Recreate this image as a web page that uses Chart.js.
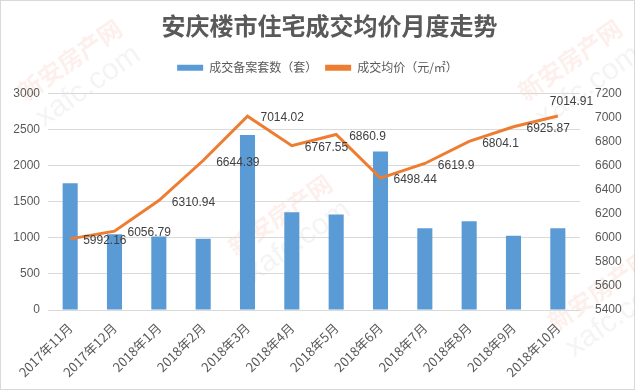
<!DOCTYPE html>
<html>
<head>
<meta charset="utf-8">
<script src="https://cdn.jsdelivr.net/npm/chart.js@4.4.1/dist/chart.umd.min.js"></script>
<style>
  body { margin: 0; background: #fff; }
  #wrap { width: 635px; height: 390px; }
</style>
</head>
<body>
<div id="wrap"><canvas id="myChart" width="635" height="390"></canvas></div>
<script>
// monthly data
const months = ['2017年11月', '2017年12月', '2018年1月', '2018年2月', '2018年3月', '2018年4月',
                '2018年5月', '2018年6月', '2018年7月', '2018年8月', '2018年9月', '2018年10月'];
const deals = [1760, 1050, 1020, 990, 2430, 1355, 1325, 2200, 1135, 1230, 1030, 1135];
const avgPrice = [5992.16, 6056.79, 6310.94, 6644.39, 7014.02, 6767.55, 6860.9, 6498.44, 6619.9, 6804.1, 6925.87, 7014.91];
const leftTicks = [0, 500, 1000, 1500, 2000, 2500, 3000];
const rightTicks = [5400, 5600, 5800, 6000, 6200, 6400, 6600, 6800, 7000, 7200];

const FONT = '"Noto Sans CJK SC", "Liberation Sans", sans-serif';
const TXT = '#595959';

// white bg, frame and watermark
const backdrop = {
  id: 'backdrop',
  beforeInit(chart) {
    // extra room under the legend
    const fit = chart.legend.fit;
    chart.legend.fit = function () {
      fit.call(this);
      this.height += 10;
    };
  },
  afterLayout(chart) {
    // title sits a bit right of centre in the original
    chart.titleBlock.left += 24;
  },
  beforeDraw(chart) {
    const c = chart.ctx;
    c.save();
    c.fillStyle = '#fff';
    c.fillRect(0, 0, chart.width, chart.height);
    c.strokeStyle = '#d9d9d9';
    c.lineWidth = 1;
    c.strokeRect(0.5, 0.5, chart.width - 1, chart.height - 1);
    // faint site watermark
    const marks = [[70, 60], [280, 215], [570, 60], [600, 290]];
    marks.forEach(m => {
      c.save();
      c.translate(m[0], m[1]);
      c.rotate(-35 * Math.PI / 180);
      c.textAlign = 'center';
      c.fillStyle = 'rgba(238, 130, 100, 0.12)';
      c.font = 'bold 24px ' + FONT;
      c.fillText('新安房产网', 0, 0);
      c.fillStyle = 'rgba(200, 200, 200, 0.2)';
      c.font = '30px "Liberation Sans", sans-serif';
      c.fillText('xafc.com', 0, 32);
      c.restore();
    });
    c.restore();
  }
};

// value labels beside the price line
const priceLabels = {
  id: 'priceLabels',
  afterDatasetsDraw(chart) {
    const c = chart.ctx;
    const meta = chart.getDatasetMeta(1);
    c.save();
    c.font = '12px "Liberation Sans", sans-serif';
    c.fillStyle = '#404040';
    c.textAlign = 'left';
    c.textBaseline = 'middle';
    meta.data.forEach((pt, i) => {
      if (i === avgPrice.length - 1) {
        c.fillText(String(avgPrice[i]), pt.x - 8, pt.y - 14);
      } else {
        c.fillText(String(avgPrice[i]), pt.x + 13, pt.y + 2);
      }
    });
    c.restore();
  }
};

const ctx = document.getElementById('myChart');
var chart = new Chart(ctx, {
  type: 'bar',
  data: {
    labels: months,
    datasets: [{
      type: 'bar',
      label: '成交备案套数（套）',
      data: deals,
      backgroundColor: '#5b9bd5',
      barPercentage: 0.34,
      categoryPercentage: 1,
      yAxisID: 'y',
      order: 2
    }, {
      type: 'line',
      label: '成交均价（元/㎡）',
      data: avgPrice,
      borderColor: '#ed7d31',
      backgroundColor: '#ed7d31',
      borderWidth: 3,
      pointRadius: 0,
      tension: 0,
      yAxisID: 'y1',
      order: 1
    }]
  },
  options: {
    responsive: false,
    animation: false,
    layout: { padding: { top: 8, left: 0, right: 0, bottom: 0 } },
    plugins: {
      title: {
        display: true,
        text: '安庆楼市住宅成交均价月度走势',
        color: TXT,
        font: { family: FONT, size: 24, weight: 'bold' },
        padding: { top: 3, bottom: 14 }
      },
      legend: {
        labels: {
          color: TXT,
          font: { family: FONT, size: 12 },
          boxWidth: 26,
          boxHeight: 6,
          padding: 8,
          generateLabels(ch) {
            return ch.data.datasets.map((ds, i) => ({
              text: ds.label,
              fillStyle: ds.type === 'bar' ? ds.backgroundColor : ds.borderColor,
              strokeStyle: 'transparent',
              lineWidth: 0,
              fontColor: TXT,
              datasetIndex: i
            }));
          }
        }
      },
      tooltip: { enabled: false }
    },
    scales: {
      x: {
        grid: { display: false },
        border: { color: '#d9d9d9' },
        ticks: {
          color: TXT,
          font: { family: FONT, size: 13 },
          maxRotation: 45,
          minRotation: 45,
          padding: 2
        },
        afterFit(s) { s.height = 80; }
      },
      y: {
        position: 'left',
        min: 0,
        max: 3000,
        afterBuildTicks(s) { s.ticks = leftTicks.map(v => ({ value: v })); },
        grid: { color: '#d9d9d9', drawTicks: false },
        border: { display: false },
        ticks: {
          color: TXT,
          font: { family: '"Liberation Sans", sans-serif', size: 12 },
          padding: 8,
          callback: v => String(v)
        },
        afterFit(s) { s.width = 48; }
      },
      y1: {
        position: 'right',
        min: 5400,
        max: 7200,
        afterBuildTicks(s) { s.ticks = rightTicks.map(v => ({ value: v })); },
        grid: { display: false, drawTicks: false },
        border: { display: false },
        ticks: {
          color: TXT,
          font: { family: '"Liberation Sans", sans-serif', size: 12 },
          padding: 15,
          callback: v => String(v)
        },
        afterFit(s) { s.width = 55; }
      }
    }
  },
  plugins: [backdrop, priceLabels]
});
</script>
</body>
</html>
